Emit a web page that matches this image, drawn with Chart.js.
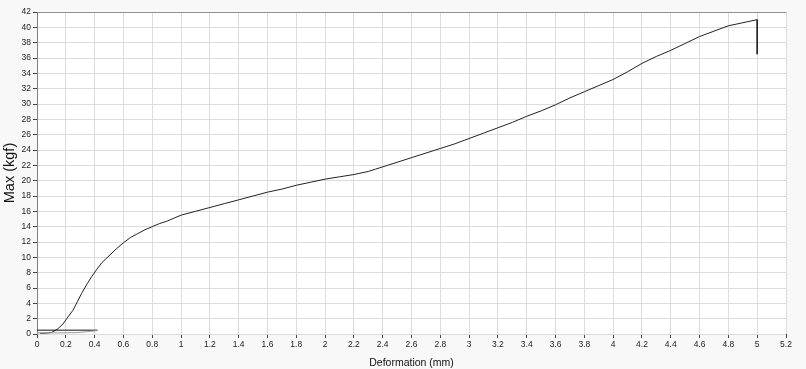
<!DOCTYPE html>
<html>
<head>
<meta charset="utf-8">
<script src="https://cdn.jsdelivr.net/npm/chart.js@4"></script>
<style>
	html, body { margin: 0; padding: 0; background: #f8f8f8; }
	#wrap { width: 806px; height: 369px; }
</style>
</head>
<body>
<div id="wrap"><canvas id="forceChart" width="806" height="369"></canvas></div>
<script>
// Load curve
const deformation = [0.02, 0.06, 0.1, 0.14, 0.18, 0.21, 0.25, 0.28, 0.31, 0.35, 0.38, 0.41, 0.45, 0.5, 0.55, 0.6, 0.65, 0.7, 0.75, 0.8, 0.85, 0.9, 0.95, 1.0, 1.1, 1.2, 1.3, 1.4, 1.5, 1.6, 1.7, 1.8, 1.9, 2.0, 2.1, 2.2, 2.3, 2.35, 2.4, 2.5, 2.6, 2.7, 2.8, 2.9, 3.0, 3.1, 3.2, 3.3, 3.4, 3.5, 3.6, 3.7, 3.8, 3.9, 4.0, 4.1, 4.2, 4.3, 4.4, 4.5, 4.6, 4.7, 4.8, 4.9, 5.0, 5.0];
const force = [0.1, 0.1, 0.2, 0.6, 1.3, 2.1, 3.1, 4.2, 5.3, 6.6, 7.5, 8.3, 9.3, 10.2, 11.1, 11.9, 12.6, 13.1, 13.6, 14.0, 14.4, 14.7, 15.1, 15.5, 16.0, 16.5, 17.0, 17.5, 18.0, 18.5, 18.9, 19.4, 19.8, 20.2, 20.5, 20.8, 21.2, 21.5, 21.8, 22.4, 23.0, 23.6, 24.2, 24.8, 25.5, 26.2, 26.9, 27.6, 28.4, 29.1, 29.9, 30.8, 31.6, 32.4, 33.2, 34.2, 35.3, 36.2, 37.0, 37.9, 38.8, 39.5, 40.2, 40.6, 41.0, 36.5];

// Preload lines near the origin
const preloadX = [0, 0.42];
const preloadY = [0.5, 0.5];
const returnX = [0, 0.1, 0.27, 0.35, 0.42];
const returnY = [0.15, 0.15, 0.17, 0.3, 0.45];

function toPoints(xs, ys) {
	return xs.map((x, i) => ({ x: x, y: ys[i] }));
}

const ctx = document.getElementById("forceChart").getContext("2d");
const tickFont = { family: "Liberation Sans", size: 8.5 };

new Chart(ctx, {
	type: "line",
	data: {
		datasets: [
			{
				data: toPoints(returnX, returnY),
				borderColor: "#9a9a9a",
				borderWidth: 1,
				pointRadius: 0,
			},
			{
				data: toPoints(preloadX, preloadY),
				borderColor: "#111",
				borderWidth: 1,
				pointRadius: 0,
			},
			{
				data: toPoints(deformation, force),
				borderColor: "#222",
				borderWidth: 1,
				pointRadius: 0,
			},
		],
	},
	options: {
		responsive: false,
		animation: false,
		layout: { padding: { top: 12, right: 20, left: 0, bottom: 0 } },
		plugins: {
			legend: { display: false },
			tooltip: { enabled: false },
		},
		scales: {
			x: {
				type: "linear",
				min: 0,
				max: 5.2,
				afterFit: (scale) => { scale.height = 35; },
				border: { display: false },
				grid: { color: "#dcdcdc", tickColor: "#444", tickLength: 4 },
				ticks: {
					stepSize: 0.2,
					font: tickFont,
					color: "#222",
					padding: 2,
					maxRotation: 0,
					autoSkip: false,
					callback: (v) => String(+v.toFixed(1)),
				},
				title: {
					display: true,
					text: "Deformation (mm)",
					font: { family: "Liberation Sans", size: 10.5 },
					color: "#111",
					padding: { top: 1, bottom: 0 },
				},
			},
			y: {
				min: 0,
				max: 42,
				afterFit: (scale) => { scale.width = 37; },
				border: { display: true, color: "#808080", width: 1 },
				grid: {
					color: (c) => (c.tick && c.tick.value === 42 ? "#909090" : "#dcdcdc"),
					tickColor: "#444",
					tickLength: 4,
				},
				ticks: {
					stepSize: 2,
					font: tickFont,
					color: "#222",
					padding: 2,
					autoSkip: false,
				},
				title: {
					display: true,
					text: "Max (kgf)",
					font: { family: "Liberation Sans", size: 14.5 },
					color: "#111",
					padding: { top: 1, bottom: 0 },
				},
			},
		},
	},
	plugins: [
		{
			id: "plotBackground",
			beforeDraw(chart) {
				const a = chart.chartArea;
				chart.ctx.save();
				chart.ctx.fillStyle = "#ffffff";
				chart.ctx.fillRect(a.left, a.top, a.right - a.left, a.bottom - a.top);
				chart.ctx.restore();
			},
		},
	],
});
</script>
</body>
</html>
